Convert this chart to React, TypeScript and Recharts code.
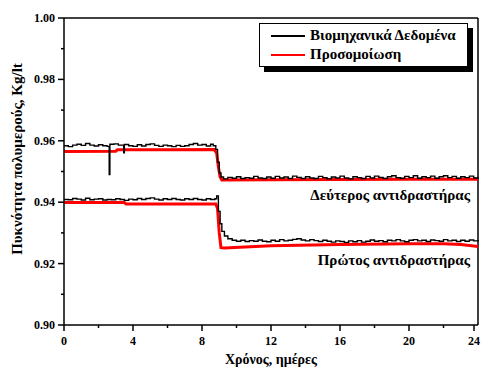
import { LineChart, Line, XAxis, YAxis, ReferenceLine } from 'recharts'

// density of polymer (Kg/lt) over time (days) for two reactors
const industrialSecond: [number, number][] = [
  [0, 0.9584], [0.25, 0.9581], [0.5, 0.9586], [0.75, 0.9589], [1.0, 0.9585], [1.25, 0.9591],
  [1.5, 0.9586], [1.75, 0.9583], [2.0, 0.9587], [2.25, 0.9584], [2.5, 0.9582], [2.6, 0.9582],
  [2.62, 0.949], [2.66, 0.9589], [2.9, 0.9590], [3.15, 0.9586], [3.45, 0.9584], [3.46, 0.9561],
  [3.5, 0.9588], [3.75, 0.9584], [4.0, 0.9582], [4.25, 0.9587], [4.5, 0.9583], [4.75, 0.9588],
  [5.0, 0.9590], [5.25, 0.9585], [5.5, 0.9582], [5.75, 0.9586], [6.0, 0.9584], [6.25, 0.9581],
  [6.5, 0.9585], [6.75, 0.9582], [7.0, 0.9584], [7.25, 0.9588], [7.5, 0.9591], [7.75, 0.9586],
  [8.0, 0.9588], [8.25, 0.9583], [8.5, 0.9589], [8.65, 0.9584], [8.8, 0.9572], [8.9, 0.9530],
  [9.0, 0.9495], [9.1, 0.9482], [9.25, 0.9476], [9.5, 0.9481], [9.75, 0.9478], [10.0, 0.9483],
  [10.25, 0.9477], [10.5, 0.9480], [10.75, 0.9478], [11.0, 0.9484], [11.25, 0.9479], [11.5, 0.9477],
  [11.75, 0.9482], [12.0, 0.9478], [12.25, 0.9484], [12.5, 0.9479], [12.75, 0.9482], [13.0, 0.9477],
  [13.25, 0.9485], [13.5, 0.9481], [13.75, 0.9477], [14.0, 0.9483], [14.25, 0.9479], [14.5, 0.9477],
  [14.75, 0.9484], [15.0, 0.9480], [15.25, 0.9476], [15.5, 0.9482], [15.75, 0.9479], [16.0, 0.9485],
  [16.25, 0.9479], [16.5, 0.9476], [16.75, 0.9483], [17.0, 0.9480], [17.25, 0.9477], [17.5, 0.9484],
  [17.75, 0.9479], [18.0, 0.9485], [18.25, 0.9481], [18.5, 0.9477], [18.75, 0.9483], [19.0, 0.9486],
  [19.25, 0.9480], [19.5, 0.9478], [19.75, 0.9484], [20.0, 0.9480], [20.25, 0.9486], [20.5, 0.9478],
  [20.75, 0.9483], [21.0, 0.9480], [21.25, 0.9485], [21.5, 0.9478], [21.75, 0.9483], [22.0, 0.9486],
  [22.25, 0.9480], [22.5, 0.9484], [22.75, 0.9478], [23.0, 0.9483], [23.25, 0.9480], [23.5, 0.9485],
  [23.75, 0.9479], [24.0, 0.9483],
]

const simulatedSecond: [number, number][] = [
  [0, 0.9565], [3.0, 0.9566], [3.1, 0.9571], [6.0, 0.9571], [8.7, 0.9572], [8.85, 0.956],
  [8.95, 0.9515], [9.05, 0.9482], [9.15, 0.9472], [12, 0.9473], [16, 0.9474], [20, 0.9475], [24, 0.9475],
]

const industrialFirst: [number, number][] = [
  [0, 0.9409], [0.25, 0.9408], [0.5, 0.9412], [0.75, 0.9410], [1.0, 0.9407], [1.25, 0.9413],
  [1.5, 0.9408], [1.75, 0.9410], [2.0, 0.9411], [2.25, 0.9407], [2.5, 0.9409], [2.75, 0.9408],
  [3.0, 0.9411], [3.25, 0.9409], [3.5, 0.9406], [3.75, 0.9410], [4.0, 0.9408], [4.25, 0.9412],
  [4.5, 0.9409], [4.75, 0.9412], [5.0, 0.9414], [5.25, 0.9410], [5.5, 0.9407], [5.75, 0.9411],
  [6.0, 0.9409], [6.25, 0.9412], [6.5, 0.9409], [6.75, 0.9407], [7.0, 0.9411], [7.25, 0.9409],
  [7.5, 0.9412], [7.75, 0.9409], [8.0, 0.9407], [8.25, 0.9411], [8.5, 0.9409], [8.75, 0.9411],
  [8.85, 0.9420], [8.95, 0.9370], [9.05, 0.9330], [9.15, 0.9305], [9.3, 0.9290], [9.5, 0.9281],
  [9.75, 0.9276], [10.0, 0.9273], [10.25, 0.9276], [10.5, 0.9272], [10.75, 0.9275], [11.0, 0.9273],
  [11.25, 0.9277], [11.5, 0.9273], [11.75, 0.9271], [12.0, 0.9276], [12.25, 0.9273], [12.5, 0.9278],
  [12.75, 0.9274], [13.0, 0.9276], [13.25, 0.9279], [13.5, 0.9281], [13.75, 0.9277], [14.0, 0.9274],
  [14.25, 0.9278], [14.5, 0.9275], [14.75, 0.9272], [15.0, 0.9276], [15.25, 0.9273], [15.5, 0.9270],
  [15.75, 0.9274], [16.0, 0.9272], [16.25, 0.9269], [16.5, 0.9274], [16.75, 0.9271], [17.0, 0.9275],
  [17.25, 0.9270], [17.5, 0.9273], [17.75, 0.9277], [18.0, 0.9273], [18.25, 0.9275], [18.5, 0.9271],
  [18.75, 0.9276], [19.0, 0.9274], [19.25, 0.9278], [19.5, 0.9274], [19.75, 0.9271], [20.0, 0.9276],
  [20.25, 0.9278], [20.5, 0.9274], [20.75, 0.9276], [21.0, 0.9272], [21.25, 0.9277], [21.5, 0.9275],
  [21.75, 0.9273], [22.0, 0.9278], [22.25, 0.9274], [22.5, 0.9276], [22.75, 0.9272], [23.0, 0.9276],
  [23.25, 0.9273], [23.5, 0.9277], [23.75, 0.9274], [24.0, 0.9277],
]

const simulatedFirst: [number, number][] = [
  [0, 0.9399], [3.5, 0.9399], [3.6, 0.9394], [8.8, 0.9394], [8.9, 0.938], [9.0, 0.930],
  [9.1, 0.9252], [9.3, 0.9251], [12, 0.9258], [16, 0.9262], [20, 0.9265], [22, 0.9265],
  [23, 0.9262], [24, 0.9256],
]

const xTicks = [0, 2, 4, 6, 8, 10, 12, 14, 16, 18, 20, 22, 24]
const yTicks = [0.9, 0.91, 0.92, 0.93, 0.94, 0.95, 0.96, 0.97, 0.98, 0.99, 1.0]

const toRows = (pts: [number, number][]) => pts.map(([t, v]) => ({ t, v }))

const FONT = '"Liberation Serif", "Times New Roman", serif'

const XTick = ({ x, y, payload }: any) => {
  const major = payload.value % 4 === 0
  return (
    <g>
      <line x1={x} x2={x} y1={y} y2={y + (major ? 6 : 3)} stroke="#000" strokeWidth={1.5} />
      {major && (
        <text x={x} y={y + 20} textAnchor="middle" fontFamily={FONT} fontWeight={700} fontSize={12} fill="#000">
          {payload.value}
        </text>
      )}
    </g>
  )
}

const YTick = ({ x, y, payload }: any) => {
  const major = Math.round(payload.value * 100) % 2 === 0
  return (
    <g>
      <line x1={x} x2={x - (major ? 6 : 3)} y1={y} y2={y} stroke="#000" strokeWidth={1.5} />
      {major && (
        <text x={x - 9} y={y + 4} textAnchor="end" fontFamily={FONT} fontWeight={700} fontSize={12} fill="#000">
          {payload.value.toFixed(2)}
        </text>
      )}
    </g>
  )
}

const textStyle = { fontFamily: FONT, fontWeight: 700, fontSize: 15, color: '#000', lineHeight: '17px', whiteSpace: 'nowrap' as const }

export default function App() {
  return (
    <div style={{ position: 'absolute', left: 0, top: 0, width: 482, height: 367, background: '#fff' }}>
      <LineChart width={482} height={367} margin={{ top: 18, right: 4, left: 0, bottom: 0 }}>
        <XAxis
          dataKey="t"
          type="number"
          domain={[0, 24]}
          ticks={xTicks}
          allowDuplicatedCategory={false}
          height={42}
          tickSize={0}
          tickMargin={0}
          tick={<XTick />}
          axisLine={{ stroke: '#000', strokeWidth: 1.5 }}
        />
        <YAxis
          dataKey="v"
          type="number"
          domain={[0.9, 1.0]}
          ticks={yTicks}
          width={64}
          tickSize={0}
          tickMargin={0}
          tick={<YTick />}
          axisLine={{ stroke: '#000', strokeWidth: 1.5 }}
        />
        <ReferenceLine y={1.0} stroke="#000" strokeWidth={1.5} />
        <ReferenceLine x={24} stroke="#000" strokeWidth={1.5} />
        <Line data={toRows(simulatedSecond)} dataKey="v" stroke="#ff0000" strokeWidth={3} dot={false} isAnimationActive={false} />
        <Line data={toRows(simulatedFirst)} dataKey="v" stroke="#ff0000" strokeWidth={3} dot={false} isAnimationActive={false} />
        <Line data={toRows(industrialSecond)} dataKey="v" type="stepAfter" stroke="#000" strokeWidth={1.4} dot={false} isAnimationActive={false} />
        <Line data={toRows(industrialFirst)} dataKey="v" type="stepAfter" stroke="#000" strokeWidth={1.4} dot={false} isAnimationActive={false} />
      </LineChart>

      {/* axis titles */}
      <div style={{ position: 'absolute', left: 17, top: 159, transform: 'translate(-50%, -50%) rotate(-90deg)', ...textStyle }}>
        Πυκνότητα πολυμερούς, Kg/lt
      </div>
      <div style={{ position: 'absolute', left: 271, top: 359, transform: 'translate(-50%, -50%)', ...textStyle, fontSize: 14 }}>
        Χρόνος, ημέρες
      </div>

      {/* legend */}
      <div style={{
        position: 'absolute', left: 259, top: 23, width: 207, height: 42,
        border: '1px solid #000', boxShadow: '5px 5px 0 #000', background: '#fff',
      }}>
        <div style={{ position: 'absolute', left: 11, top: 11, width: 34, height: 2, background: '#000' }} />
        <div style={{ position: 'absolute', left: 50, top: 3, ...textStyle }}>Βιομηχανικά Δεδομένα</div>
        <div style={{ position: 'absolute', left: 11, top: 30, width: 34, height: 2, background: '#ff0000' }} />
        <div style={{ position: 'absolute', left: 50, top: 22, ...textStyle }}>Προσομοίωση</div>
      </div>

      <div style={{ position: 'absolute', right: 12, top: 187, ...textStyle }}>Δεύτερος αντιδραστήρας</div>
      <div style={{ position: 'absolute', right: 12, top: 252, ...textStyle }}>Πρώτος αντιδραστήρας</div>
    </div>
  )
}
